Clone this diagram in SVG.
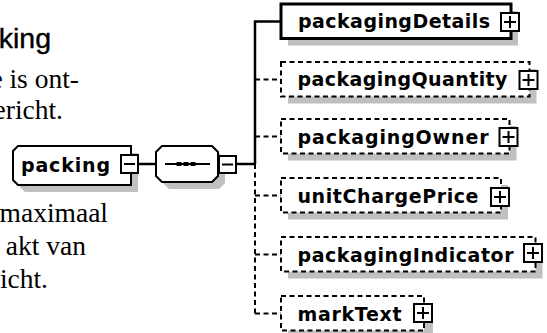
<svg xmlns="http://www.w3.org/2000/svg" width="547" height="333" viewBox="0 0 547 333">
<style>
.t{font-family:"Liberation Serif","Times New Roman",serif;font-size:27.5px;fill:#000}
.h{font-family:"Liberation Sans",Arial,sans-serif;font-size:28.5px;fill:#000;stroke:#000;stroke-width:0.4}
.n{font-family:"DejaVu Sans",Verdana,sans-serif;font-weight:bold;font-size:19px;fill:#000}
.sh{fill:#c0c0c0}
.box{fill:#fff;stroke:#000;stroke-width:2}
.solid{stroke-width:3}
.dash{stroke-dasharray:5 3.5}
.c{stroke:#000;stroke-width:2.5;fill:none}
.cd{stroke:#000;stroke-width:2;fill:none;stroke-dasharray:5 3.5}
.btn{fill:#fff;stroke:#000;stroke-width:2}
.sign{stroke:#000;stroke-width:2;fill:none}
</style>

<g id="text">
<text class="h" x="51" y="48" text-anchor="end">king</text>
<text class="t" x="79" y="88" text-anchor="end">e is ont-</text>
<text class="t" x="63" y="119" text-anchor="end">ericht.</text>
<text class="t" x="108" y="222" text-anchor="end">maximaal</text>
<text class="t" x="86" y="255" text-anchor="end">akt van</text>
<text class="t" x="48" y="288" text-anchor="end">icht.</text>
</g>

<g id="connectors">
<path class="c" d="M138,164 H156"/>
<path class="c" d="M236,164 H255"/>
<path class="c" d="M255,164 V21.5 H281"/>
<path class="cd" d="M255,164 V313.5"/>
<path class="cd" d="M255,79.5 H281"/>
<path class="cd" d="M255,136.5 H281"/>
<path class="cd" d="M255,195.5 H281"/>
<path class="cd" d="M255,254.5 H281"/>
<path class="cd" d="M255,313.5 H281"/>
</g>

<g id="packing">
<path class="sh" d="M25,153 H138 V192 H25 L20,187 V158 Z"/>
<path class="box" d="M18,146 H131 V185 H18 L13,180 V151 Z"/>
<text class="n" x="21" y="172" textLength="89" lengthAdjust="spacing">packing</text>
<rect class="btn" x="121" y="155" width="17" height="18"/>
<path class="sign" d="M124,164 H135"/>
</g>

<g id="sequence">
<path class="sh" d="M169,153 H219 L225,159 V183 L219,189 H169 L163,183 V159 Z"/>
<path class="box" d="M162,146 H212 L218,152 V176 L212,182 H162 L156,176 V152 Z"/>
<path class="sign" d="M165,164 H210"/>
<rect x="176.5" y="162" width="5" height="4" fill="#000"/>
<rect x="183.5" y="162" width="5" height="4" fill="#000"/>
<rect x="190.5" y="162" width="5" height="4" fill="#000"/>
<rect class="btn" x="219" y="156" width="17" height="17"/>
<path class="sign" d="M222,164.5 H233"/>
</g>

<g id="packagingDetails">
<rect class="sh" x="288" y="11" width="230" height="34.5"/>
<rect class="box solid" x="281" y="4" width="230" height="34.5"/>
<text class="n" x="298" y="28" textLength="192" lengthAdjust="spacing">packagingDetails</text>
<rect class="btn" x="501" y="13" width="18" height="18"/>
<path class="sign" d="M504,22 H516 M510,16 V28"/>
</g>

<g id="packagingQuantity">
<rect class="sh" x="288" y="69" width="248.5" height="34.5"/>
<rect class="box dash" x="281" y="62" width="248.5" height="34.5"/>
<text class="n" x="297.5" y="86" textLength="210" lengthAdjust="spacing">packagingQuantity</text>
<rect class="btn" x="519.5" y="71" width="18" height="18"/>
<path class="sign" d="M522.5,80 H534.5 M528.5,74 V86"/>
</g>

<g id="packagingOwner">
<rect class="sh" x="288" y="126" width="228.5" height="34.5"/>
<rect class="box dash" x="281" y="119" width="228.5" height="34.5"/>
<text class="n" x="297.5" y="143.5" textLength="191" lengthAdjust="spacing">packagingOwner</text>
<rect class="btn" x="499.5" y="128" width="18" height="18"/>
<path class="sign" d="M502.5,137 H514.5 M508.5,131 V143"/>
</g>

<g id="unitChargePrice">
<rect class="sh" x="288" y="185" width="220" height="34.5"/>
<rect class="box dash" x="281" y="178" width="220" height="34.5"/>
<text class="n" x="297.5" y="202.5" textLength="181" lengthAdjust="spacing">unitChargePrice</text>
<rect class="btn" x="491" y="188" width="18" height="18"/>
<path class="sign" d="M494,197 H506 M500,191 V203"/>
</g>

<g id="packagingIndicator">
<rect class="sh" x="288" y="244" width="254.5" height="34.5"/>
<rect class="box dash" x="281" y="237" width="254.5" height="34.5"/>
<text class="n" x="297.5" y="261.5" textLength="216" lengthAdjust="spacing">packagingIndicator</text>
<rect class="btn" x="524" y="244" width="18" height="18"/>
<path class="sign" d="M527,253 H539 M533,247 V259"/>
</g>

<g id="markText">
<rect class="sh" x="288" y="303" width="145" height="34.5"/>
<rect class="box dash" x="281" y="296" width="143" height="34.5"/>
<text class="n" x="297.5" y="320.5" textLength="104" lengthAdjust="spacing">markText</text>
<rect class="btn" x="414" y="304" width="18" height="18"/>
<path class="sign" d="M417,313 H429 M423,307 V319"/>
</g>
</svg>
